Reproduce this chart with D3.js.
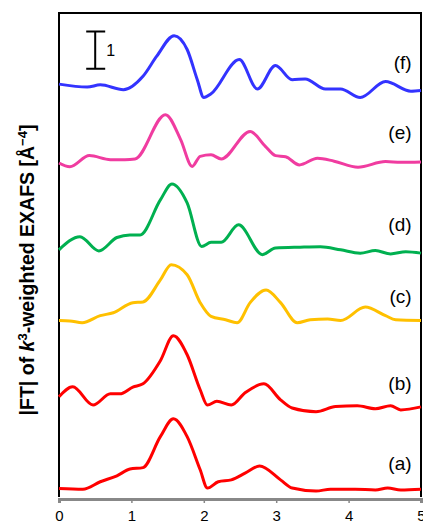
<!DOCTYPE html>
<html>
<head>
<meta charset="utf-8">
<script src="https://cdn.jsdelivr.net/npm/d3@7"></script>
<style>
  body { margin: 0; background: #fff; }
  svg { display: block; }
</style>
</head>
<body>
<div id="chart"></div>
<script>
// curves: [R (Å), |FT|] pairs, before stacking
const curveA = [[0, 0.23], [0.33, 0.21], [0.57, 0.41], [0.80, 0.57], [0.98, 0.75], [1.16, 0.79], [1.40, 1.62], [1.58, 2.10], [1.77, 1.62], [1.95, 0.73], [2.05, 0.24], [2.20, 0.41], [2.38, 0.46], [2.57, 0.64], [2.77, 0.83], [3.06, 0.46], [3.22, 0.24], [3.55, 0.16], [3.75, 0.21], [4.09, 0.21], [4.37, 0.19], [4.54, 0.24], [4.72, 0.19], [5.0, 0.21]];
const curveB = [[0, 0.49], [0.19, 0.76], [0.47, 0.27], [0.71, 0.57], [0.84, 0.57], [1.02, 0.75], [1.16, 0.84], [1.40, 1.46], [1.58, 2.13], [1.77, 1.62], [1.95, 0.68], [2.05, 0.27], [2.18, 0.37], [2.38, 0.27], [2.57, 0.60], [2.83, 0.84], [3.06, 0.41], [3.22, 0.19], [3.55, 0.09], [3.82, 0.23], [4.12, 0.25], [4.37, 0.17], [4.58, 0.25], [4.72, 0.14], [5.0, 0.22]];
const curveC = [[0, 0.24], [0.15, 0.23], [0.32, 0.18], [0.57, 0.37], [0.75, 0.45], [1.02, 0.72], [1.16, 0.74], [1.40, 1.33], [1.55, 1.74], [1.77, 1.47], [1.95, 0.72], [2.10, 0.35], [2.30, 0.26], [2.46, 0.18], [2.64, 0.72], [2.86, 1.06], [3.06, 0.72], [3.29, 0.18], [3.47, 0.26], [3.71, 0.28], [3.89, 0.24], [4.23, 0.60], [4.51, 0.37], [4.65, 0.26], [5.0, 0.24]];
const curveD = [[0, 0.24], [0.29, 0.59], [0.55, 0.21], [0.80, 0.57], [0.98, 0.64], [1.12, 0.64], [1.40, 1.58], [1.56, 2.01], [1.77, 1.50], [1.97, 0.33], [2.10, 0.44], [2.24, 0.44], [2.48, 0.91], [2.81, 0.11], [2.99, 0.29], [3.33, 0.31], [3.61, 0.32], [3.89, 0.24], [4.16, 0.15], [4.37, 0.22], [4.58, 0.13], [4.79, 0.19], [5.0, 0.15]];
const curveE = [[0, 0.37], [0.15, 0.27], [0.42, 0.57], [0.71, 0.46], [0.91, 0.46], [1.05, 0.48], [1.47, 1.67], [1.68, 1.0], [1.84, 0.28], [1.95, 0.55], [2.10, 0.59], [2.24, 0.48], [2.64, 1.22], [2.85, 0.82], [2.99, 0.57], [3.13, 0.54], [3.32, 0.32], [3.57, 0.50], [3.80, 0.42], [4.13, 0.26], [4.51, 0.41], [4.72, 0.39], [5.0, 0.40]];
const curveF = [[0, 0.49], [0.39, 0.41], [0.57, 0.47], [0.89, 0.34], [1.16, 0.70], [1.35, 1.24], [1.59, 1.79], [1.77, 1.42], [1.91, 0.61], [2.00, 0.13], [2.10, 0.23], [2.49, 1.15], [2.74, 0.36], [2.99, 0.99], [3.22, 0.61], [3.40, 0.63], [3.68, 0.36], [3.89, 0.36], [4.16, 0.13], [4.51, 0.56], [4.86, 0.30], [5.0, 0.32]];

const sampleNames = ["(a)", "(b)", "(c)", "(d)", "(e)", "(f)"];
const offsets = [0, 2.2, 4.5, 6.4, 8.6, 10.6];
const xTicks = [0, 1, 2, 3, 4, 5];
const scaleBarValue = 1;

const curves = [curveA, curveB, curveC, curveD, curveE, curveF];
const colors = ["#ff0000", "#ff0000", "#ffc000", "#00b050", "#f03ca0", "#3333ff"];
// how high each name sits above its curve's offset
const labelLift = [0.91, 0.86, 0.88, 0.91, 1.2, 1.07];

const width = 423;
const height = 523;
const margin = { top: 13, right: 2, bottom: 26, left: 59 };
const font = "'Liberation Sans', Arial, sans-serif";

const svg = d3.select("#chart")
    .append("svg")
    .attr("width", width)
    .attr("height", height);

const x = d3.scaleLinear()
    .domain([0, 5])
    .range([margin.left, width - margin.right]);

const y = d3.scaleLinear()
    .domain([0, 13])
    .range([height - margin.bottom, margin.top]);

// frame: black on left, top and right
svg.append("path")
    .attr("d", `M${x(0)},${y(0)}V${margin.top}H${x(5)}V${y(0)}`)
    .attr("fill", "none")
    .attr("stroke", "#000")
    .attr("stroke-width", 2);

// bottom axis in grey
const xAxis = svg.append("g")
    .attr("transform", `translate(0,${y(0) + 2})`)
    .call(d3.axisBottom(x).tickValues(xTicks).tickSize(4).tickPadding(7).tickFormat(d3.format("d")));
xAxis.select(".domain").attr("stroke", "#888").attr("stroke-width", 3);
xAxis.selectAll(".tick line").attr("stroke", "#888").attr("stroke-width", 1.5);
xAxis.selectAll(".tick text")
    .attr("font-family", font)
    .attr("font-size", 15)
    .attr("fill", "#000");

// the spectra
const line = d3.line()
    .x(d => x(d[0]))
    .y(d => y(d[1]))
    .curve(d3.curveMonotoneX);

curves.forEach((c, i) => {
    const shifted = c.map(p => [p[0], p[1] + offsets[i]]);
    svg.append("path")
        .datum(shifted)
        .attr("fill", "none")
        .attr("stroke", colors[i])
        .attr("stroke-width", 3)
        .attr("stroke-linejoin", "round")
        .attr("d", line);

    svg.append("text")
        .attr("x", x(4.87))
        .attr("y", y(offsets[i] + labelLift[i]))
        .attr("dy", "0.35em")
        .attr("text-anchor", "end")
        .attr("font-family", font)
        .attr("font-size", 19)
        .text(sampleNames[i]);
});

// scale bar
const barX = x(0.5);
const barTop = y(11.5 + scaleBarValue);
const barBottom = y(11.5);
svg.append("path")
    .attr("d", `M${barX - 9},${barTop}H${barX + 10}M${barX},${barTop}V${barBottom}M${barX - 9},${barBottom}H${barX + 10}`)
    .attr("stroke", "#000")
    .attr("stroke-width", 2)
    .attr("fill", "none");
svg.append("text")
    .attr("x", barX + 11)
    .attr("y", (barTop + barBottom) / 2 + 6)
    .attr("font-family", font)
    .attr("font-size", 16)
    .text(scaleBarValue);

// y label
const yLabel = svg.append("text")
    .attr("transform", `translate(34,${(y(0) + margin.top) / 2 + 15}) rotate(-90)`)
    .attr("text-anchor", "middle")
    .attr("font-family", font)
    .attr("font-size", 19.5)
    .attr("font-weight", "bold");
yLabel.append("tspan").text("|FT| of ");
yLabel.append("tspan").attr("font-style", "italic").text("k");
yLabel.append("tspan").attr("font-size", 13).attr("dy", -7).text("3");
yLabel.append("tspan").attr("dy", 7).text("-weighted EXAFS [Å");
yLabel.append("tspan").attr("font-size", 13).attr("dy", -7).text("−4");
yLabel.append("tspan").attr("dy", 7).text("]");
</script>
</body>
</html>
